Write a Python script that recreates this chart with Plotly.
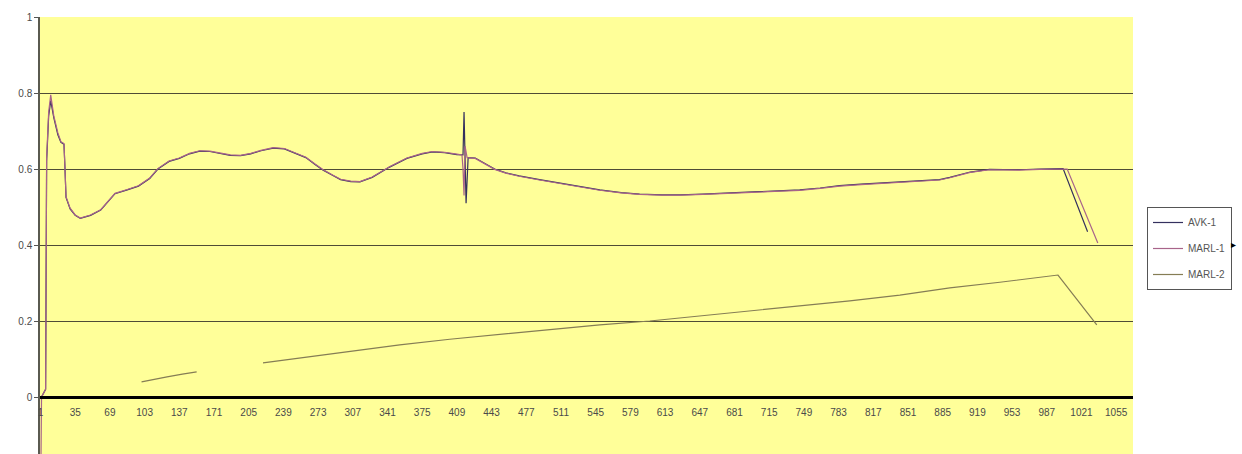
import plotly.graph_objects as go

# ---------------- data ----------------
n_categories = 1071
tick_labels = [1, 35, 69, 103, 137, 171, 205, 239, 273, 307, 341, 375, 409, 443,
               477, 511, 545, 579, 613, 647, 681, 715, 749, 783, 817, 851, 885,
               919, 953, 987, 1021, 1055]
y_ticks = [0, 0.2, 0.4, 0.6, 0.8, 1]
y_tick_text = ["0", "0.2", "0.4", "0.6", "0.8", "1"]

avk1_x = [1, 2, 6, 7, 9, 11, 14, 18, 21, 24, 25, 26, 30, 35, 40, 50, 60, 74, 86, 97,
          108, 116, 127, 137, 147, 157, 167, 177, 187, 197, 207, 217, 229, 240, 250,
          261, 270, 278, 288, 295, 305, 314, 326, 343, 360, 375, 385, 397, 409, 415,
          416, 417, 418, 420, 427, 436, 446, 457, 470, 490, 510, 530, 549, 570, 588,
          610, 628, 650, 667, 690, 706, 725, 745, 765, 784, 805, 824, 845, 863, 882,
          892, 912, 931, 960, 980, 1000, 1003, 1027]
avk1_y = [0.0, 0.0, 0.02, 0.62, 0.74, 0.78, 0.735, 0.69, 0.67, 0.665, 0.6, 0.525,
          0.495, 0.478, 0.47, 0.478, 0.492, 0.535, 0.545, 0.555, 0.575, 0.6, 0.62,
          0.628, 0.64, 0.647, 0.646, 0.64, 0.636, 0.635, 0.64, 0.648, 0.655, 0.653,
          0.643, 0.63, 0.612, 0.597, 0.582, 0.572, 0.567, 0.566, 0.578, 0.605, 0.628,
          0.64, 0.645, 0.643, 0.638, 0.637, 0.75, 0.60, 0.51, 0.63, 0.629, 0.615,
          0.6, 0.59, 0.582, 0.572, 0.563, 0.552, 0.545, 0.538, 0.534, 0.532, 0.532,
          0.534, 0.536, 0.537, 0.539, 0.541, 0.545, 0.55, 0.556, 0.56, 0.563, 0.566,
          0.568, 0.572, 0.578, 0.592, 0.599, 0.598, 0.6, 0.601, 0.601, 0.435]

marl1_x = [1, 2, 6, 7, 9, 11, 14, 18, 21, 24, 25, 26, 30, 35, 40, 50, 60, 74, 86, 97,
           108, 116, 127, 137, 147, 157, 167, 177, 187, 197, 207, 217, 229, 240, 250,
           261, 270, 278, 288, 295, 305, 314, 326, 343, 360, 375, 385, 397, 409, 414,
           415, 416, 417, 419, 427, 436, 446, 457, 470, 490, 510, 530, 549, 570, 588,
           610, 628, 650, 667, 690, 706, 725, 745, 765, 784, 805, 824, 845, 863, 882,
           892, 912, 931, 960, 980, 1000, 1007, 1037]
marl1_y = [-0.3, 0.0, 0.02, 0.63, 0.75, 0.795, 0.74, 0.695, 0.672, 0.667, 0.6, 0.527,
           0.497, 0.479, 0.471, 0.479, 0.493, 0.536, 0.546, 0.556, 0.576, 0.601,
           0.621, 0.629, 0.641, 0.648, 0.647, 0.641, 0.637, 0.636, 0.641, 0.649,
           0.656, 0.654, 0.644, 0.631, 0.613, 0.598, 0.583, 0.573, 0.568, 0.567,
           0.579, 0.606, 0.629, 0.641, 0.646, 0.644, 0.639, 0.637, 0.60, 0.53, 0.66,
           0.63, 0.628, 0.614, 0.599, 0.589, 0.581, 0.571, 0.562, 0.551, 0.544,
           0.537, 0.533, 0.531, 0.531, 0.533, 0.535, 0.536, 0.538, 0.54, 0.544,
           0.549, 0.555, 0.559, 0.562, 0.565, 0.567, 0.571, 0.577, 0.591, 0.598,
           0.597, 0.599, 0.6, 0.6, 0.405]

marl2_x = [100, 112, 125, 140, 154, 155, 219, 255, 304, 353, 402, 451, 500, 549,
           598, 647, 696, 745, 794, 843, 892, 941, 998, 1036]
marl2_y = [0.04, 0.047, 0.053, 0.06, 0.066, None, 0.09, 0.103, 0.12, 0.137, 0.152,
           0.165, 0.177, 0.19, 0.2, 0.213, 0.226, 0.24, 0.253, 0.268, 0.287, 0.302,
           0.321, 0.19]

# ---------------- figure ----------------
W, H = 1242, 454
ML, MR, MT, MB = 40, 109, 17, 0
y_min, y_max = -0.15, 1.0
plot_w = W - ML - MR
plot_h = H - MT - MB

fig = go.Figure()
fig.add_trace(go.Scatter(x=avk1_x, y=avk1_y, mode="lines", name="AVK-1",
                         legendgroup="a",
                         line=dict(color="#34305e", width=1.2)))
fig.add_trace(go.Scatter(x=marl1_x, y=marl1_y, mode="lines", name="MARL-1",
                         legendgroup="b",
                         line=dict(color="#a8648a", width=1.2)))
fig.add_trace(go.Scatter(x=marl2_x, y=marl2_y, mode="lines", name="MARL-2",
                         legendgroup="c", connectgaps=False,
                         line=dict(color="#857d55", width=1.2)))

axis_font = dict(family="Liberation Sans, Arial, sans-serif", size=10, color="#4a4a4a")

fig.update_layout(
    width=W, height=H,
    margin=dict(l=ML, r=MR, t=MT, b=MB, pad=0),
    paper_bgcolor="white",
    plot_bgcolor="#FFFF99",
    showlegend=True,
    legend=dict(
        x=(1147 - ML) / plot_w, xanchor="left",
        y=1 - (207 - MT) / plot_h, yanchor="top",
        bgcolor="white", bordercolor="#555555", borderwidth=1,
        font=dict(family="Liberation Sans, Arial, sans-serif", size=10, color="#555555"),
        itemwidth=30, tracegroupgap=7,
    ),
    xaxis=dict(
        range=[0.5, n_categories + 0.5],
        tickmode="array", tickvals=tick_labels, ticktext=[str(t) for t in tick_labels],
        tickfont=axis_font, ticks="", ticklabelstandoff=5,
        showgrid=False, zeroline=False,
        showline=True, linecolor="black", linewidth=3,
        anchor="free", position=(0 - y_min) / (y_max - y_min),
        tickangle=0,
    ),
    yaxis=dict(
        range=[y_min, y_max],
        tickmode="array", tickvals=y_ticks, ticktext=y_tick_text,
        tickfont=axis_font, ticks="outside", ticklen=4, tickcolor="#555555",
        showgrid=True, gridcolor="#4f4c36", gridwidth=1.2,
        zeroline=False,
        showline=True, linecolor="#5a5a50", linewidth=1.5,
    ),
)

fig.add_annotation(xref="paper", yref="paper",
                   x=(1238 - ML) / plot_w, y=1 - (244 - MT) / plot_h,
                   text="▸", showarrow=False,
                   font=dict(size=10, color="black"))

fig.write_html("out.html")
